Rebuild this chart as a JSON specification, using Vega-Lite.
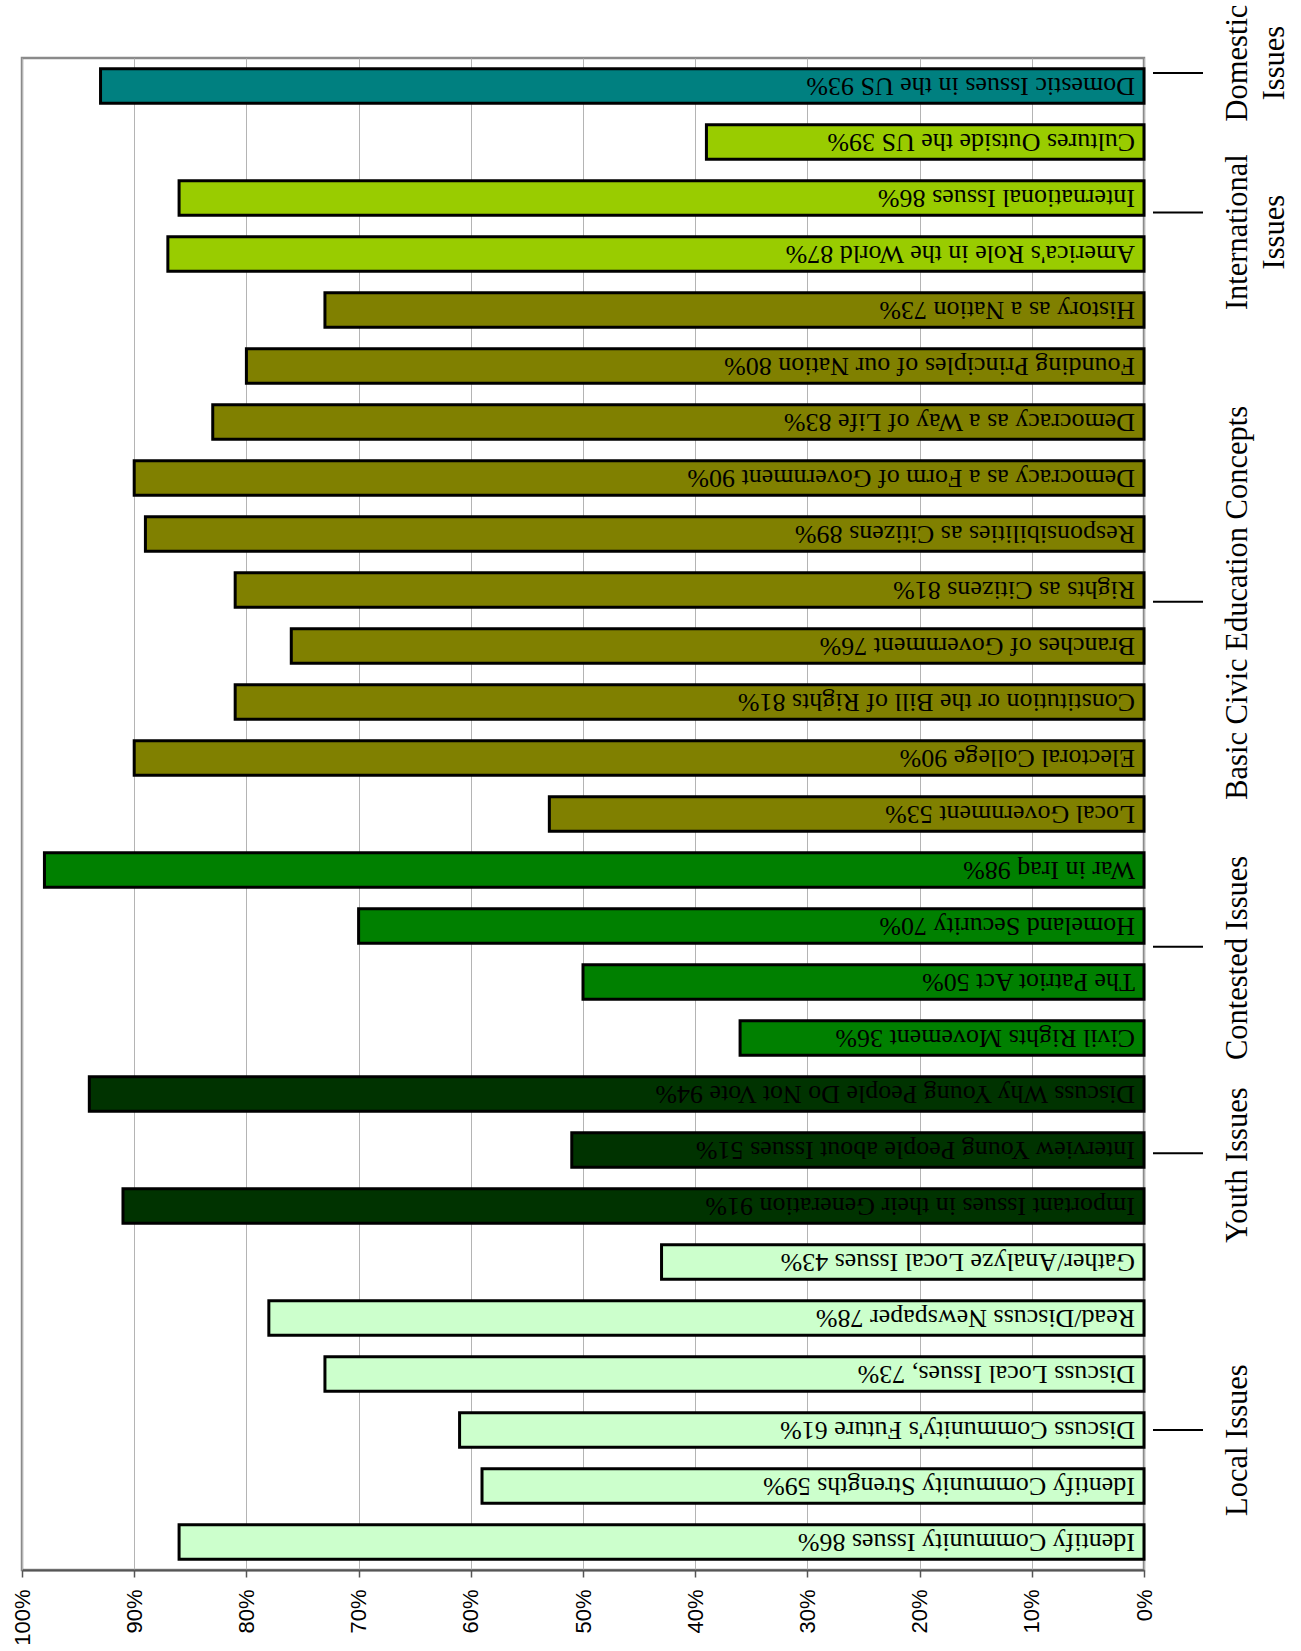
{
  "$schema": "https://vega.github.io/schema/vega-lite/v6.json",
  "width": 1122,
  "height": 1512,
  "autosize": "none",
  "padding": {"left": 22, "top": 58, "right": 157, "bottom": 81},
  "background": "white",
  "config": {"view": {"stroke": "#8a8a8a", "strokeWidth": 2.5}},
  "datasets": {
    "topics": [
      {"item": "Domestic Issues in the US", "pct": 93, "group": "Domestic Issues"},
      {"item": "Cultures Outside the US", "pct": 39, "group": "International Issues"},
      {"item": "International Issues", "pct": 86, "group": "International Issues"},
      {"item": "America's Role in the World", "pct": 87, "group": "International Issues"},
      {"item": "History as a Nation", "pct": 73, "group": "Basic Civic Education Concepts"},
      {"item": "Founding Principles of our Nation", "pct": 80, "group": "Basic Civic Education Concepts"},
      {"item": "Democracy as a Way of Life", "pct": 83, "group": "Basic Civic Education Concepts"},
      {"item": "Democracy as a Form of Government", "pct": 90, "group": "Basic Civic Education Concepts"},
      {"item": "Responsibilities as Citizens", "pct": 89, "group": "Basic Civic Education Concepts"},
      {"item": "Rights as Citizens", "pct": 81, "group": "Basic Civic Education Concepts"},
      {"item": "Branches of Government", "pct": 76, "group": "Basic Civic Education Concepts"},
      {"item": "Constitution or the Bill of Rights", "pct": 81, "group": "Basic Civic Education Concepts"},
      {"item": "Electoral College", "pct": 90, "group": "Basic Civic Education Concepts"},
      {"item": "Local Government", "pct": 53, "group": "Basic Civic Education Concepts"},
      {"item": "War in Iraq", "pct": 98, "group": "Contested Issues"},
      {"item": "Homeland Security", "pct": 70, "group": "Contested Issues"},
      {"item": "The Patriot Act", "pct": 50, "group": "Contested Issues"},
      {"item": "Civil Rights Movement", "pct": 36, "group": "Contested Issues"},
      {"item": "Discuss Why Young People Do Not Vote", "pct": 94, "group": "Youth Issues"},
      {"item": "Interview Young People about Issues", "pct": 51, "group": "Youth Issues"},
      {"item": "Important Issues in their Generation", "pct": 91, "group": "Youth Issues"},
      {"item": "Gather/Analyze Local Issues", "pct": 43, "group": "Local Issues"},
      {"item": "Read/Discuss Newspaper", "pct": 78, "group": "Local Issues"},
      {"item": "Discuss  Local Issues,", "pct": 73, "group": "Local Issues"},
      {"item": "Discuss Community's Future", "pct": 61, "group": "Local Issues"},
      {"item": "Identify Community Strengths", "pct": 59, "group": "Local Issues"},
      {"item": "Identify Community Issues", "pct": 86, "group": "Local Issues"}
    ],
    "groups": [
      {"name": "Domestic\nIssues", "tickAt": 0.77, "labelAt": 0.59},
      {"name": "International\nIssues", "tickAt": 3.26, "labelAt": 3.61},
      {"name": "Basic Civic Education Concepts", "tickAt": 10.21, "labelAt": 10.23},
      {"name": "Contested Issues", "tickAt": 16.37, "labelAt": 16.57},
      {"name": "Youth Issues", "tickAt": 20.06, "labelAt": 20.27},
      {"name": "Local Issues", "tickAt": 25.0, "labelAt": 25.18}
    ]
  },
  "layer": [
    {
      "data": {"name": "topics"},
      "transform": [
        {"calculate": "datum.item + ' ' + datum.pct + '%'", "as": "label"}
      ],
      "encoding": {
        "y": {
          "field": "item",
          "type": "nominal",
          "sort": null,
          "axis": null,
          "scale": {"paddingInner": 0.38, "paddingOuter": 0.19}
        }
      },
      "layer": [
        {
          "mark": {"type": "bar", "stroke": "black", "strokeWidth": 3},
          "encoding": {
            "x": {
              "field": "pct",
              "type": "quantitative",
              "scale": {"domain": [0, 100], "reverse": true, "nice": false},
              "axis": {
                "orient": "bottom",
                "title": null,
                "values": [0, 10, 20, 30, 40, 50, 60, 70, 80, 90, 100],
                "labelExpr": "datum.value + '%'",
                "labelAngle": 270,
                "labelFont": "Liberation Sans",
                "labelFontSize": 22,
                "labelColor": "black",
                "labelPadding": 12,
                "labelFlush": false,
                "labelOverlap": false,
                "tickSize": 7,
                "tickColor": "#555555",
                "tickWidth": 1.5,
                "domainColor": "#555555",
                "domainWidth": 2,
                "grid": true,
                "gridColor": "#b4b4b4",
                "gridWidth": 1
              }
            },
            "color": {
              "field": "group",
              "type": "nominal",
              "legend": null,
              "scale": {
                "domain": ["Domestic Issues", "International Issues", "Basic Civic Education Concepts", "Contested Issues", "Youth Issues", "Local Issues"],
                "range": ["#008080", "#99cc00", "#808000", "#008000", "#003300", "#ccffcc"]
              }
            }
          }
        },
        {
          "mark": {
            "type": "text",
            "angle": 180,
            "align": "left",
            "baseline": "middle",
            "dx": 9,
            "font": "Liberation Serif",
            "fontSize": 26,
            "color": "black"
          },
          "encoding": {
            "x": {"datum": 0, "type": "quantitative"},
            "text": {"field": "label", "type": "nominal"}
          }
        }
      ]
    },
    {
      "data": {"name": "groups"},
      "layer": [
        {
          "mark": {"type": "rule", "color": "black", "strokeWidth": 2, "xOffset": 9, "x2Offset": 59},
          "encoding": {
            "y": {
              "field": "tickAt",
              "type": "quantitative",
              "scale": {"domain": [0.5, 27.5], "reverse": true, "nice": false, "zero": false},
              "axis": null
            },
            "x": {"value": "width"},
            "x2": {"value": "width"}
          }
        },
        {
          "mark": {
            "type": "text",
            "angle": 270,
            "align": "center",
            "baseline": "alphabetic",
            "lineBreak": "\n",
            "lineHeight": 37,
            "xOffset": 103,
            "font": "Liberation Serif",
            "fontSize": 30.5,
            "color": "black"
          },
          "encoding": {
            "y": {"field": "labelAt", "type": "quantitative", "axis": null},
            "x": {"value": "width"},
            "text": {"field": "name", "type": "nominal"}
          }
        }
      ]
    }
  ],
  "resolve": {"scale": {"y": "independent"}}
}
